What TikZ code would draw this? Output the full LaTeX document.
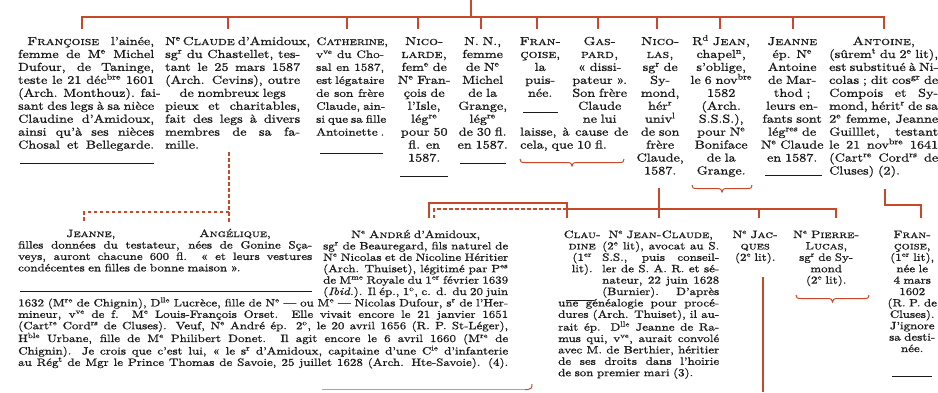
\documentclass[tikz,border=0pt]{standalone}
\usepackage{fontspec}
\setmainfont{lmroman10-regular.otf}[
  BoldFont=lmroman10-bold.otf,
  ItalicFont=lmroman10-italic.otf,
  SmallCapsFont=lmromancaps10-regular.otf,
  FakeStretch=1.22,
  FakeBold=1.0]
\definecolor{gene}{RGB}{198,74,42}
\definecolor{ink}{RGB}{28,26,26}
\newcommand\tsup[1]{\textsuperscript{#1}}
% justified line: restore the font's stretchable interword glue
\newcommand\jl[1]{{\spaceskip=0pt\xspaceskip=0pt\makebox[\linewidth][s]{#1}}}
\newcommand\cl[1]{\makebox[\linewidth][c]{#1}}
\newcommand\fTop{\fontsize{11.6}{12.95}\selectfont}
\newcommand\fTopNarrow{\fontsize{10.8}{12.95}\selectfont}
\newcommand\fLow{\fontsize{10.6}{11.4}\selectfont}
% downward curly brace: left x, right x, top y
\newcommand\bracedown[3]{%
  \pgfmathsetmacro\bxm{(#1+#2)/2}%
  \draw[brace line] (#1,#3) .. controls (#1,#3+3) and (#1+1,#3+3.5) .. (#1+5,#3+3.5)
    -- (\bxm-5,#3+3.5) .. controls (\bxm-1.5,#3+3.5) and (\bxm,#3+4.5) .. (\bxm,#3+7)
    .. controls (\bxm,#3+4.5) and (\bxm+1.5,#3+3.5) .. (\bxm+5,#3+3.5)
    -- (#2-5,#3+3.5) .. controls (#2-1,#3+3.5) and (#2,#3+3) .. (#2,#3);}
\tikzset{
  txt/.style={inner sep=0pt, anchor=base west, text=ink, align=left},
  topcol/.style={txt, font=\fTop},
  lowcol/.style={txt, font=\fLow},
  ctr/.style={align=center},
  kin/.style={draw=gene, line width=1.1pt},
  kindash/.style={draw=gene, line width=1.1pt, dash pattern=on 3.5pt off 2.5pt},
  rule/.style={draw=ink, line width=0.6pt},
  brace line/.style={draw=gene, line width=1pt},
}
\begin{document}
\begin{tikzpicture}[x=1pt,y=-1pt]
\fill[white] (0,0) rectangle (938,392);
\useasboundingbox (0,0) rectangle (938,392);

% ---------- first generation ----------
\node[topcol, text width=136pt] (francoise) at (18,45) {\jl{\hspace*{9pt}\textsc{Françoise} l'ainée,}\\ \jl{femme de M\tsup{e} Michel}\\ \jl{Dufour, de Taninge,}\\ \jl{teste le 21 déc\tsup{bre} 1601}\\ \jl{(Arch. Monthouz). fai-}\\ \jl{sant des legs à sa nièce}\\ \jl{Claudine d'Amidoux,}\\ \jl{ainsi qu'à ses nièces}\\ \jl{Chosal et Bellegarde.}};

\node[topcol, text width=135pt] (claude) at (165,45) {\jl{N\tsup{e}\,\textsc{Claude} d'Amidoux,}\\ \jl{sg\tsup{r} du Chastellet, tes-}\\ \jl{tant le 25 mars 1587}\\ \jl{(Arch. Cevins), outre}\\ \cl{de nombreux legs}\\ \jl{pieux et charitables,}\\ \jl{fait des legs à divers}\\ \jl{membres de sa fa-}\\ mille.};

\node[topcol, font=\fTopNarrow, text width=68pt] (catherine) at (316,45) {\jl{\textsc{Catherine},}\\ \jl{v\tsup{ve} du Cho-}\\ \jl{sal en 1587,}\\ \jl{est légataire}\\ \jl{de son frère}\\ \jl{Claude, ain-}\\ \jl{si que sa fille}\\ \jl{Antoinette .}};

\node[topcol, ctr, text width=62pt] (nicolarde) at (393,45) {\textsc{Nico-}\\ \textsc{larde,}\\ fem\tsup{e} de\\ N\tsup{e} Fran-\\ çois de\\ l'Isle,\\ lég\tsup{re}\\ pour 50\\ fl. en\\ 1587.};

\node[topcol, ctr, text width=59pt] (nn) at (453,45) {N. N.,\\ femme\\ de N\tsup{e}\\ Michel\\ de la\\ Grange,\\ lég\tsup{re}\\ de 30 fl.\\ en 1587.};

\node[topcol, ctr, text width=46pt] (francoiseb) at (517,45) {\textsc{Fran-}\\ \textsc{çoise},\\ la\\ puis-\\ née.};

\node[topcol, ctr, text width=65pt] (gaspard) at (567,45) {\textsc{Gas-}\\ \textsc{pard,}\\ « dissi-\\ pateur ».\\ Son frère\\ Claude\\ ne lui};
\node[topcol, text width=108pt] (gaspardb) at (520,135.65) {\jl{laisse, à cause de}\\ cela, que 10 fl.};

\node[topcol, ctr, text width=56pt] (nicolas) at (632,45) {\textsc{Nico-}\\ \textsc{las,}\\ sg\tsup{r} de\\ Sy-\\ mond,\\ hér\tsup{r}\\ univ\tsup{l}\\ de son\\ frère\\ Claude,\\ 1587.};

\node[topcol, ctr, text width=64pt] (jean) at (689,45) {R\tsup{d} \textsc{Jean,}\\ chapel\tsup{n},\\ s'oblige,\\ le 6 nov\tsup{bre}\\ 1582\\ (Arch.\\ S.S.S.),\\ pour N\tsup{e}\\ Boniface\\ de la\\ Grange.};

\node[topcol, ctr, text width=66pt] (jeanne) at (759,45) {\textsc{Jeanne}\\ ép. N\tsup{e}\\ Antoine\\ de Mar-\\ thod ;\\ leurs en-\\ fants sont\\ lég\tsup{res} de\\ N\tsup{e} Claude\\ en 1587.};

\node[topcol, text width=109pt] (antoine) at (829,45) {\cl{\textsc{Antoine},}\\ \jl{(sûrem\tsup{t} du 2\tsup{e} lit),}\\ \jl{est substitué à Ni-}\\ \jl{colas ; dit cos\tsup{gr} de}\\ \jl{Compois et Sy-}\\ \jl{mond, hérit\tsup{r} de sa}\\ \jl{2\tsup{e} femme, Jeanne}\\ \jl{Guilllet, testant}\\ \jl{le 21 nov\tsup{bre} 1641}\\ \jl{(Cart\tsup{re} Cord\tsup{rs} de}\\ Cluses) (2).};

% ---------- second generation ----------
\node[lowcol] (jeannec) at (66,237) {\textsc{Jeanne},};
\node[lowcol] (angelique) at (199,237) {\textsc{Angélique},};
\node[lowcol, text width=294pt] (filles) at (18,248.5) {\jl{filles données du testateur, nées de Gonine Sça-}\\ \jl{veys, auront chacune 600 fl. « et leurs vestures}\\ condécentes en filles de bonne maison ».};

\node[lowcol, text width=185pt] (andre) at (323,238) {\cl{N\tsup{e} \textsc{André} d'Amidoux,}\\ \jl{sg\tsup{r} de Beauregard, fils naturel de}\\ \jl{N\tsup{e} Nicolas et de Nicoline Héritier}\\ \jl{(Arch. Thuiset), légitimé par P\tsup{es}}\\ \jl{de M\tsup{me} Royale du 1\tsup{er} février 1639}\\ \jl{(\textit{Ibid.}). Il ép., 1\tsup{o}, c. d. du 20 juin}};
\node[lowcol, text width=490pt] (andreb) at (18,306.4) {\jl{1632 (M\tsup{re} de Chignin), D\tsup{lle} Lucrèce, fille de N\tsup{e} — ou M\tsup{e} — Nicolas Dufour, s\tsup{r} de l'Her-}\\ \jl{mineur, v\tsup{ve} de f. M\tsup{e} Louis-François Orset. Elle vivait encore le 21 janvier 1651}\\ \jl{(Cart\tsup{re} Cord\tsup{rs} de Cluses). Veuf, N\tsup{e} André ép. 2\tsup{o}, le 20 avril 1656 (R. P. St-Léger),}\\ \jl{H\tsup{ble} Urbane, fille de M\tsup{e} Philibert Donet. Il agit encore le 6 avril 1660 (M\tsup{re} de}\\ \jl{Chignin). Je crois que c'est lui, « le s\tsup{r} d'Amidoux, capitaine d'une C\tsup{ie} d'infanterie}\\ \jl{au Rég\tsup{t} de Mgr le Prince Thomas de Savoie, 25 juillet 1628 (Arch. Hte-Savoie). (4).}};

\node[lowcol, ctr, text width=40pt] (claudine) at (562,238) {\textsc{Clau-}\\ \textsc{dine}\\ (1\tsup{er}\\ lit).};

\node[lowcol, text width=117pt] (jeanclaude) at (602,238) {\cl{N\tsup{e} \textsc{Jean-Claude},}\\ \jl{(2\tsup{e} lit), avocat au S.}\\ \jl{S.S., puis conseil-}\\ \jl{ler de S. A. R. et sé-}\\ \jl{nateur, 22 juin 1628}\\ \jl{(Burnier). D'après}};
\node[lowcol, text width=161pt] (jeanclaudeb) at (558,306.4) {\jl{une généalogie pour procé-}\\ \jl{dures (Arch. Thuiset), il au-}\\ \jl{rait ép. D\tsup{lle} Jeanne de Ra-}\\ \jl{mus qui, v\tsup{ve}, aurait convolé}\\ \jl{avec M. de Berthier, héritier}\\ \jl{de ses droits dans l'hoirie}\\ de son premier mari (3).};

\node[lowcol, ctr, text width=52pt] (jacques) at (729,238) {N\tsup{e} \textsc{Jac-}\\ \textsc{ques}\\ (2\tsup{e} lit).};

\node[lowcol, ctr, text width=80pt] (pierrelucas) at (786,238) {N\tsup{e} \textsc{Pierre-}\\ \textsc{Lucas},\\ sg\tsup{r} de Sy-\\ mond\\ (2\tsup{e} lit).};

\node[lowcol, ctr, text width=56pt] (francoisec) at (884,238) {\textsc{Fran-}\\ \textsc{çoise},\\ (1\tsup{er} lit),\\ née le\\ 4 mars\\ 1602\\ (R. P. de\\ Cluses).\\ J'ignore\\ sa desti-\\ née.};

% ---------- closing rules ----------
\draw[rule] (20,163) -- (154,163);
\draw[rule] (320,153) -- (383,153);
\draw[rule] (400,176) -- (448,176);
\draw[rule] (460,163) -- (506,163);
\draw[rule] (523,112) -- (558,112);
\draw[rule] (765,175) -- (822,175);
\draw[rule] (20,291) -- (312,291);
\draw[rule] (566,300) -- (594,300);
\draw[rule] (892,376) -- (932,376);
\draw[draw=gray!70, line width=0.6pt] (322,389.5) -- (526,389.5);

% ---------- family lines ----------
\coordinate (root) at (471,0);
\coordinate (bar) at (471,17);
\draw[kin] (root) -- (bar);
\draw[kin, line join=miter] (82,29) -- (82,17) -- (884,17) -- (884,29);
\foreach \x in {228,347,418,481,537,598,657,720,793}
  \draw[kin] (\x,17) -- (\x,29);

% natural daughters of Claude
\coordinate (cl0) at (229,152);
\coordinate (cl1) at (229,212);
\draw[kindash] (cl0) -- (229,222);
\draw[kindash] (cl1) -- (84,212) -- (84,222);

% braces
\bracedown{520}{624}{159}
\bracedown{692}{752}{185}
\bracedown{796}{869}{295}
\draw[brace line] (525,389.5) -- (528,389.5) .. controls (531,389.5) and (532,388) .. (532,384);

% children of Nicolas
\coordinate (nic) at (659,188);
\draw[kin] (nic) -- (659,218);
\draw[kin, line join=miter] (429,218) -- (429,203) -- (567,203) -- (567,218);
\draw[kindash] (434,218) -- (434,209) -- (567,209);
\draw[kin, line join=miter] (567,209) -- (836,209) -- (836,218);
\draw[kin] (759,209) -- (759,218);

% daughter of Antoine
\draw[kin, line join=miter] (885,189) -- (885,205) -- (921,205) -- (921,218);

% descent of Jacques
\draw[kin] (763,277) -- (763,392);
\end{tikzpicture}
\end{document}
